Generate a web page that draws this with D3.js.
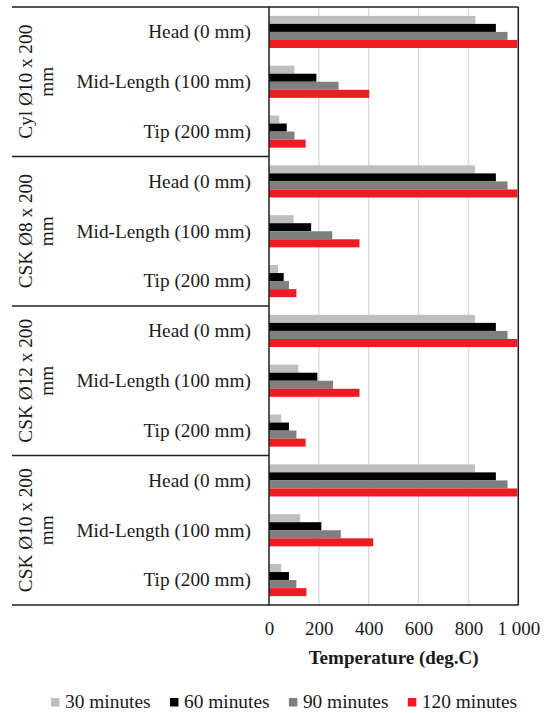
<!DOCTYPE html>
<html>
<head>
<meta charset="utf-8">
<script src="https://cdn.jsdelivr.net/npm/d3@7/dist/d3.min.js"></script>
<style>
  html, body { margin: 0; padding: 0; background: #fff; }
  svg { display: block; }
</style>
</head>
<body>
<svg id="chart" width="544" height="713"></svg>
<script>
// Specimens (outer grouping) and measuring points along each specimen
const specimens = ["Cyl Ø10 x 200 mm", "CSK Ø8 x 200 mm", "CSK Ø12 x 200 mm", "CSK Ø10 x 200 mm"];
const locations = ["Head (0 mm)", "Mid-Length (100 mm)", "Tip (200 mm)"];
const seriesNames = ["30 minutes", "60 minutes", "90 minutes", "120 minutes"];

// Temperature (deg.C) per specimen/location, in the order of the rows above
const min30  = [828, 102, 41,   826, 99, 36,    826, 118, 49,   826, 125, 49];
const min60  = [910, 190, 71,   910, 169, 59,   910, 194, 80,   910, 210, 80];
const min90  = [957, 279, 102,  957, 254, 80,   957, 257, 110,  957, 288, 110];
const min120 = [996, 402, 147,  996, 363, 110,  996, 363, 147,  996, 418, 150];

const xTicks = [0, 200, 400, 600, 800, 1000];
const seriesColors = ["#bfbfbf", "#000000", "#7f7f7f", "#ed1c24"];

const series = [min30, min60, min90, min120];

const FONT = '"Liberation Serif"';
const svg = d3.select("#chart");
const plot = { left: 269, right: 518.3, top: 7, bottom: 605 };
const frameLeft = 12;
const lineColor = "#1f1f1f";
const textColor = "#1a1a1a";
const labelSize = 19.3;
const axisSize = 19;
const legendSize = 19.4;

// Rows: one per specimen/location pair
const rows = [];
specimens.forEach((s, si) => locations.forEach((l, li) => rows.push({ specimen: s, location: l, index: si * locations.length + li })));

const x = d3.scaleLinear().domain([0, 1000]).range([plot.left, plot.right]);
const y = d3.scaleBand().domain(rows.map(r => r.index)).range([plot.top, plot.bottom]).padding(0);
const ySeries = d3.scaleBand().domain(d3.range(series.length)).range([0, y.bandwidth()])
  .paddingInner(0).paddingOuter(1.1);

// Vertical gridlines
svg.append("g").selectAll("line").data(xTicks.slice(1)).join("line")
  .attr("x1", d => x(d)).attr("x2", d => x(d))
  .attr("y1", plot.top).attr("y2", plot.bottom)
  .attr("stroke", "#d9d9d9").attr("stroke-width", 1.3);

// Bars
const barData = [];
rows.forEach(r => series.forEach((vals, k) => barData.push({ row: r.index, k, v: vals[r.index] })));
svg.append("g").selectAll("rect").data(barData).join("rect")
  .attr("x", x(0))
  .attr("y", d => y(d.row) + ySeries(d.k))
  .attr("width", d => x(d.v) - x(0))
  .attr("height", ySeries.bandwidth())
  .attr("fill", d => seriesColors[d.k]);

// Frame: top, bottom, right edge, category axis and specimen separators
const frame = svg.append("g").attr("stroke", lineColor).attr("stroke-width", 1.5).attr("fill", "none");
frame.append("line").attr("x1", frameLeft).attr("x2", plot.right).attr("y1", plot.top).attr("y2", plot.top);
frame.append("line").attr("x1", frameLeft).attr("x2", plot.right).attr("y1", plot.bottom).attr("y2", plot.bottom);
frame.append("line").attr("x1", plot.right).attr("x2", plot.right).attr("y1", plot.top).attr("y2", plot.bottom);
frame.append("line").attr("x1", plot.left).attr("x2", plot.left).attr("y1", plot.top).attr("y2", plot.bottom);
const groupEdges = specimens.slice(1).map((s, i) => y((i + 1) * locations.length));
frame.selectAll("line.sep").data(groupEdges).join("line").attr("class", "sep")
  .attr("x1", frameLeft).attr("x2", plot.left).attr("y1", d => d).attr("y2", d => d);

// Location labels
svg.append("g").selectAll("text").data(rows).join("text")
  .attr("x", plot.left - 18)
  .attr("y", d => y(d.index) + y.bandwidth() / 2)
  .attr("dy", "0.33em")
  .attr("text-anchor", "end")
  .attr("font-size", labelSize)
  .attr("fill", textColor)
  .style("font-family", FONT)
  .text(d => d.location);

// Specimen labels, rotated and wrapped on two lines
const specG = svg.append("g").selectAll("text").data(specimens).join("text")
  .attr("transform", (d, i) => {
    const cy = (y(i * locations.length) + y((i + 1) * locations.length - 1) + y.bandwidth()) / 2;
    return `translate(32,${cy}) rotate(-90)`;
  })
  .attr("text-anchor", "middle")
  .attr("font-size", labelSize)
  .attr("fill", textColor)
  .style("font-family", FONT);
specG.each(function (d) {
  const cut = d.lastIndexOf(" ");
  const t = d3.select(this);
  t.append("tspan").attr("x", 0).attr("y", 0).text(d.slice(0, cut));
  t.append("tspan").attr("x", 0).attr("y", 20.5).text(d.slice(cut + 1));
});

// Value axis
const fmt = d3.formatLocale({ decimal: ".", thousands: " ", grouping: [3], currency: ["", ""] }).format(",");
const xAxis = svg.append("g").attr("transform", `translate(0,${plot.bottom})`)
  .call(d3.axisBottom(x).tickValues(xTicks).tickSize(0).tickPadding(17).tickFormat(fmt));
xAxis.attr("font-family", null);
xAxis.select(".domain").remove();
xAxis.selectAll("text").attr("font-size", axisSize).attr("fill", textColor)
  .style("font-family", FONT);

svg.append("text")
  .attr("x", (plot.left + plot.right) / 2)
  .attr("y", 663.5)
  .attr("text-anchor", "middle")
  .attr("font-size", axisSize)
  .attr("font-weight", "bold")
  .attr("fill", textColor)
  .style("font-family", FONT)
  .text("Temperature (deg.C)");

// Legend
const legend = svg.append("g");
let lx = 51;
seriesNames.forEach((name, k) => {
  legend.append("rect").attr("x", lx).attr("y", 698).attr("width", 8.5).attr("height", 8.5).attr("fill", seriesColors[k]);
  const t = legend.append("text").attr("x", lx + 14).attr("y", 708)
    .attr("font-size", legendSize).attr("fill", textColor).style("font-family", FONT).text(name);
  lx += 14 + t.node().getComputedTextLength() + 19.3;
});
</script>
</body>
</html>
